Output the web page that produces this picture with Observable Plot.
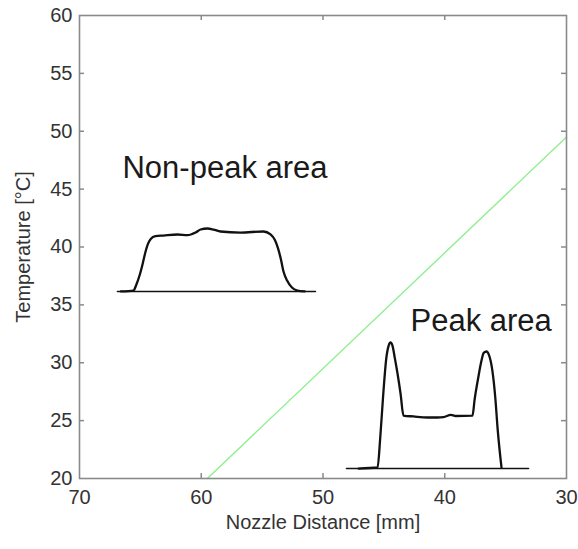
<!DOCTYPE html>
<html><head><meta charset="utf-8">
<script src="https://cdn.jsdelivr.net/npm/d3@7"></script>
<script src="https://cdn.jsdelivr.net/npm/@observablehq/plot@0.6"></script>
<style>body{margin:0;background:#fff}</style>
</head><body><div id="chart"></div>
<script>
const xTicks = [70, 60, 50, 40, 30];
const yTicks = [20, 25, 30, 35, 40, 45, 50, 55, 60];

// green trend line (nozzle distance vs temperature)
const trendX = [59.5, 30];
const trendY = [20, 49.5];

// inset profile: non-peak area
const nonPeakX = [66.6, 65.56, 65.35, 65.05, 64.80, 64.60, 64.40, 64.15, 63.76, 63.10, 61.95, 61.13, 60.47, 60.06, 59.49, 58.99, 58.42, 56.78, 54.89, 54.31, 53.95, 53.70, 53.45, 53.25, 52.95, 52.55, 52.10, 51.5];
const nonPeakY = [36.16, 36.24, 36.70, 37.60, 38.60, 39.50, 40.20, 40.70, 40.93, 40.99, 41.08, 41.02, 41.25, 41.51, 41.60, 41.51, 41.34, 41.25, 41.34, 41.08, 40.60, 39.90, 38.90, 37.90, 37.10, 36.50, 36.24, 36.16];
const nonPeakBaseX = [66.88, 50.62];
const nonPeakBaseY = [36.16, 36.16];

// inset profile: peak area
const peakX = [47.08, 45.52, 45.30, 45.05, 44.80, 44.60, 44.46, 44.30, 44.10, 43.88, 43.63, 43.39, 42.57, 41.42, 40.60, 40.10, 39.50, 39.10, 37.72, 37.55, 37.25, 37.00, 36.80, 36.57, 36.38, 36.10, 35.85, 35.65, 35.34];
const peakY = [20.86, 20.95, 23.50, 27.30, 30.40, 31.50, 31.75, 31.50, 30.40, 29.07, 27.34, 25.44, 25.36, 25.27, 25.27, 25.30, 25.50, 25.40, 25.44, 26.80, 28.70, 30.10, 30.85, 30.97, 30.70, 29.40, 27.00, 24.20, 20.95];
const peakBaseX = [48.07, 33.12];
const peakBaseY = [20.86, 20.86];

const noteText = ["Non-peak area", "Peak area"];
const noteX = [66.47, 42.81];
const noteY = [46.0, 32.7];

const W = 578, H = 549, mL = 79, mR = 12, mT = 15, mB = 71;
const innerW = W - mL - mR, innerH = H - mT - mB;
const pts = (xs, ys) => xs.map((x, i) => ({x, y: ys[i]}));
const notes = noteText.map((t, i) => ({t, x: noteX[i], y: noteY[i]}));
const inner = xTicks.slice(1, -1), innerY = yTicks.slice(1, -1);
const axisColor = "#8a8a8a";

const chart = Plot.plot({
  width: W, height: H,
  marginLeft: mL, marginRight: mR, marginTop: mT, marginBottom: mB,
  x: {domain: [70, 30]},
  y: {domain: [20, 60]},
  style: {fontFamily: "'Liberation Sans', Arial, sans-serif", fontSize: "20px", color: "#333", background: "#fff"},
  marks: [
    Plot.line(pts(trendX, trendY), {x: "x", y: "y", stroke: "#8fef8f", strokeWidth: 1.4}),
    Plot.line(pts(nonPeakBaseX, nonPeakBaseY), {x: "x", y: "y", stroke: "#111", strokeWidth: 1.6}),
    Plot.line(pts(nonPeakX, nonPeakY), {x: "x", y: "y", stroke: "#111", strokeWidth: 2.3, curve: "monotone-x"}),
    Plot.line(pts(peakBaseX, peakBaseY), {x: "x", y: "y", stroke: "#111", strokeWidth: 1.6}),
    Plot.line(pts(peakX, peakY), {x: "x", y: "y", stroke: "#111", strokeWidth: 2.3, curve: "monotone-x"}),
    Plot.text(notes, {x: "x", y: "y", text: "t", textAnchor: "start", lineAnchor: "bottom", fontSize: 31, fill: "#1a1a1a"}),
    Plot.frame({stroke: axisColor, strokeWidth: 1.6}),
    Plot.tickX(inner, {x: d => d, insetTop: innerH - 5, stroke: axisColor, strokeWidth: 1.5}),
    Plot.tickX(inner, {x: d => d, insetBottom: innerH - 5, stroke: axisColor, strokeWidth: 1.5}),
    Plot.tickY(innerY, {y: d => d, insetRight: innerW - 5, stroke: axisColor, strokeWidth: 1.5}),
    Plot.tickY(innerY, {y: d => d, insetLeft: innerW - 5, stroke: axisColor, strokeWidth: 1.5}),
    Plot.axisX({ticks: xTicks, tickSize: 0, tickPadding: 11, label: "Nozzle Distance [mm]", labelAnchor: "center", labelArrow: "none", labelOffset: 50, fill: "#333"}),
    Plot.axisY({ticks: yTicks, tickSize: 0, tickPadding: 7, label: "Temperature [°C]", labelAnchor: "center", labelArrow: "none", labelOffset: 64, fill: "#333"})
  ]
});
document.getElementById("chart").appendChild(chart);
</script>
</body></html>
